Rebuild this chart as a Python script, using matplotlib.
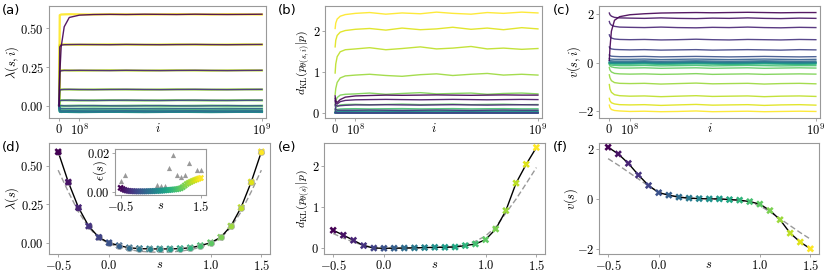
import numpy as np
import matplotlib
matplotlib.use('Agg')
import matplotlib.pyplot as plt

plt.rcParams['mathtext.fontset'] = 'cm'
plt.rcParams['font.family'] = ['DejaVu Sans']

# ---------------- data ----------------
s_vals = [-0.5, -0.4, -0.3, -0.2, -0.1, 0.0, 0.1, 0.2, 0.3, 0.4, 0.5,
          0.6, 0.7, 0.8, 0.9, 1.0, 1.1, 1.2, 1.3, 1.4, 1.5]

# training iterations (units of 1e9)
iters = [0, 0.003, 0.01, 0.025, 0.05, 0.1, 0.17, 0.25, 0.33, 0.42, 0.5,
         0.58, 0.67, 0.75, 0.83, 0.92, 1.0]

lam_traces = [
    [0.00, 0.20, 0.38, 0.51, 0.57, 0.585, 0.589, 0.590, 0.589, 0.591, 0.590, 0.589, 0.591, 0.590, 0.589, 0.590, 0.591],
    [0.00, 0.380, 0.392, 0.394, 0.395, 0.396, 0.395, 0.394, 0.396, 0.395, 0.394, 0.395, 0.396, 0.395, 0.394, 0.395, 0.396],
    [0.00, 0.220, 0.226, 0.228, 0.228, 0.229, 0.228, 0.227, 0.229, 0.228, 0.227, 0.228, 0.229, 0.228, 0.227, 0.228, 0.229],
    [0.00, 0.100, 0.104, 0.105, 0.106, 0.105, 0.104, 0.105, 0.106, 0.105, 0.104, 0.105, 0.106, 0.105, 0.104, 0.105, 0.106],
    [0.00, 0.033, 0.035, 0.035, 0.036, 0.035, 0.034, 0.035, 0.036, 0.035, 0.034, 0.035, 0.036, 0.035, 0.034, 0.035, 0.036],
    [0.00, 0.000, 0.001, 0.000, -0.001, 0.000, 0.001, 0.000, -0.001, 0.000, 0.001, 0.000, -0.001, 0.000, 0.001, 0.000, 0.000],
    [0.00, -0.017, -0.019, -0.019, -0.018, -0.019, -0.020, -0.019, -0.018, -0.019, -0.020, -0.019, -0.018, -0.019, -0.020, -0.019, -0.019],
    [0.00, -0.031, -0.033, -0.033, -0.032, -0.033, -0.034, -0.033, -0.032, -0.033, -0.034, -0.033, -0.032, -0.033, -0.034, -0.033, -0.033],
    [0.00, -0.036, -0.038, -0.038, -0.037, -0.038, -0.039, -0.038, -0.037, -0.038, -0.039, -0.038, -0.037, -0.038, -0.039, -0.038, -0.038],
    [0.00, -0.038, -0.040, -0.040, -0.039, -0.040, -0.041, -0.040, -0.039, -0.040, -0.041, -0.040, -0.039, -0.040, -0.041, -0.040, -0.040],
    [0.00, -0.039, -0.040, -0.041, -0.040, -0.039, -0.040, -0.041, -0.040, -0.039, -0.040, -0.041, -0.040, -0.039, -0.040, -0.041, -0.040],
    [0.00, -0.038, -0.040, -0.039, -0.040, -0.041, -0.040, -0.039, -0.040, -0.041, -0.040, -0.039, -0.040, -0.041, -0.040, -0.039, -0.040],
    [0.00, -0.036, -0.037, -0.038, -0.039, -0.038, -0.037, -0.038, -0.039, -0.038, -0.037, -0.038, -0.039, -0.038, -0.037, -0.038, -0.038],
    [0.00, -0.031, -0.032, -0.033, -0.034, -0.033, -0.032, -0.033, -0.034, -0.033, -0.032, -0.033, -0.034, -0.033, -0.032, -0.033, -0.033],
    [0.00, -0.017, -0.018, -0.019, -0.020, -0.019, -0.018, -0.019, -0.020, -0.019, -0.018, -0.019, -0.020, -0.019, -0.018, -0.019, -0.019],
    [0.00, 0.001, 0.000, -0.001, 0.000, 0.001, 0.000, -0.001, 0.000, 0.001, 0.000, -0.001, 0.000, 0.001, 0.000, -0.001, 0.000],
    [0.00, 0.034, 0.035, 0.036, 0.035, 0.034, 0.035, 0.036, 0.035, 0.034, 0.035, 0.036, 0.035, 0.034, 0.035, 0.036, 0.035],
    [0.00, 0.103, 0.105, 0.106, 0.105, 0.104, 0.105, 0.106, 0.105, 0.104, 0.105, 0.106, 0.105, 0.104, 0.105, 0.106, 0.105],
    [0.00, 0.225, 0.228, 0.229, 0.228, 0.227, 0.228, 0.229, 0.228, 0.227, 0.228, 0.229, 0.228, 0.227, 0.228, 0.229, 0.228],
    [0.00, 0.392, 0.395, 0.396, 0.395, 0.394, 0.395, 0.396, 0.395, 0.394, 0.395, 0.396, 0.395, 0.394, 0.395, 0.396, 0.395],
    [0.00, 0.585, 0.589, 0.590, 0.591, 0.590, 0.589, 0.591, 0.590, 0.589, 0.590, 0.591, 0.590, 0.589, 0.591, 0.590, 0.589],
]

dkl_traces = [
    [0.42, 0.30, 0.26, 0.33, 0.39, 0.42, 0.43, 0.44, 0.435, 0.44, 0.445, 0.44, 0.435, 0.44, 0.445, 0.44, 0.44],
    [0.36, 0.25, 0.22, 0.28, 0.31, 0.325, 0.33, 0.335, 0.33, 0.325, 0.33, 0.335, 0.33, 0.325, 0.33, 0.335, 0.33],
    [0.30, 0.20, 0.17, 0.18, 0.19, 0.20, 0.20, 0.205, 0.20, 0.195, 0.20, 0.205, 0.20, 0.195, 0.20, 0.205, 0.20],
    [0.20, 0.10, 0.07, 0.07, 0.07, 0.07, 0.075, 0.07, 0.065, 0.07, 0.075, 0.07, 0.065, 0.07, 0.075, 0.07, 0.07],
    [0.10, 0.03, 0.01, 0.01, 0.012, 0.01, 0.008, 0.01, 0.012, 0.01, 0.008, 0.01, 0.012, 0.01, 0.008, 0.01, 0.01],
    [0.02, 0.002, 0.000, 0.001, 0.000, 0.001, 0.000, 0.001, 0.000, 0.001, 0.000, 0.001, 0.000, 0.001, 0.000, 0.001, 0.000],
    [0.01, 0.003, 0.002, 0.002, 0.003, 0.002, 0.001, 0.002, 0.003, 0.002, 0.001, 0.002, 0.003, 0.002, 0.001, 0.002, 0.002],
    [0.01, 0.005, 0.006, 0.006, 0.007, 0.006, 0.005, 0.006, 0.007, 0.006, 0.005, 0.006, 0.007, 0.006, 0.005, 0.006, 0.006],
    [0.01, 0.008, 0.010, 0.010, 0.011, 0.010, 0.009, 0.010, 0.011, 0.010, 0.009, 0.010, 0.011, 0.010, 0.009, 0.010, 0.010],
    [0.01, 0.012, 0.015, 0.016, 0.017, 0.016, 0.015, 0.016, 0.017, 0.016, 0.015, 0.016, 0.017, 0.016, 0.015, 0.016, 0.016],
    [0.01, 0.016, 0.020, 0.022, 0.023, 0.022, 0.021, 0.022, 0.023, 0.022, 0.021, 0.022, 0.023, 0.022, 0.021, 0.022, 0.022],
    [0.01, 0.018, 0.023, 0.025, 0.026, 0.025, 0.024, 0.025, 0.026, 0.025, 0.024, 0.025, 0.026, 0.025, 0.024, 0.025, 0.025],
    [0.01, 0.020, 0.027, 0.030, 0.031, 0.030, 0.029, 0.030, 0.032, 0.030, 0.029, 0.031, 0.030, 0.029, 0.031, 0.030, 0.030],
    [0.02, 0.040, 0.055, 0.060, 0.065, 0.066, 0.063, 0.066, 0.068, 0.064, 0.066, 0.068, 0.064, 0.066, 0.067, 0.064, 0.065],
    [0.04, 0.070, 0.090, 0.100, 0.105, 0.108, 0.102, 0.107, 0.110, 0.103, 0.106, 0.110, 0.103, 0.107, 0.109, 0.104, 0.105],
    [0.08, 0.13, 0.17, 0.20, 0.21, 0.215, 0.205, 0.212, 0.22, 0.208, 0.214, 0.22, 0.207, 0.213, 0.218, 0.206, 0.21],
    [0.20, 0.30, 0.38, 0.44, 0.46, 0.47, 0.49, 0.46, 0.48, 0.50, 0.47, 0.48, 0.49, 0.46, 0.48, 0.49, 0.47],
    [0.45, 0.60, 0.75, 0.86, 0.91, 0.93, 0.95, 0.92, 0.90, 0.94, 0.96, 0.92, 0.95, 0.97, 0.93, 0.95, 0.93],
    [0.98, 1.20, 1.38, 1.50, 1.55, 1.57, 1.60, 1.55, 1.58, 1.62, 1.57, 1.59, 1.63, 1.57, 1.59, 1.56, 1.58],
    [1.62, 1.78, 1.90, 1.98, 2.02, 2.05, 2.07, 2.03, 2.08, 2.04, 2.06, 2.10, 2.05, 2.08, 2.04, 2.09, 2.06],
    [2.07, 2.20, 2.30, 2.37, 2.41, 2.44, 2.46, 2.42, 2.45, 2.43, 2.47, 2.44, 2.42, 2.46, 2.44, 2.47, 2.45],
]

v_traces = [
    [0.10, 0.60, 1.30, 1.75, 1.90, 1.98, 2.02, 2.05, 2.06, 2.07, 2.06, 2.07, 2.08, 2.07, 2.06, 2.07, 2.07],
    [2.05, 1.98, 1.92, 1.87, 1.85, 1.84, 1.83, 1.85, 1.83, 1.82, 1.84, 1.83, 1.85, 1.83, 1.82, 1.84, 1.83],
    [1.70, 1.62, 1.55, 1.50, 1.47, 1.46, 1.45, 1.47, 1.45, 1.44, 1.46, 1.45, 1.47, 1.45, 1.44, 1.46, 1.45],
    [1.15, 1.08, 1.02, 0.98, 0.96, 0.95, 0.96, 0.94, 0.95, 0.97, 0.95, 0.94, 0.96, 0.95, 0.94, 0.96, 0.95],
    [0.65, 0.60, 0.57, 0.55, 0.54, 0.53, 0.54, 0.52, 0.53, 0.54, 0.52, 0.53, 0.54, 0.53, 0.52, 0.54, 0.53],
    [0.32, 0.29, 0.27, 0.26, 0.25, 0.25, 0.26, 0.24, 0.25, 0.26, 0.25, 0.24, 0.25, 0.26, 0.25, 0.24, 0.25],
    [0.18, 0.16, 0.15, 0.14, 0.14, 0.14, 0.15, 0.13, 0.14, 0.15, 0.14, 0.13, 0.14, 0.15, 0.14, 0.13, 0.14],
    [0.10, 0.09, 0.08, 0.07, 0.07, 0.07, 0.08, 0.06, 0.07, 0.08, 0.07, 0.06, 0.07, 0.08, 0.07, 0.06, 0.07],
    [0.05, 0.04, 0.035, 0.03, 0.03, 0.03, 0.04, 0.02, 0.03, 0.04, 0.03, 0.02, 0.03, 0.04, 0.03, 0.02, 0.03],
    [0.02, 0.015, 0.01, 0.01, 0.01, 0.01, 0.02, 0.00, 0.01, 0.02, 0.01, 0.00, 0.01, 0.02, 0.01, 0.00, 0.01],
    [0.00, 0.00, 0.00, 0.00, 0.00, 0.00, 0.01, -0.01, 0.00, 0.01, 0.00, -0.01, 0.00, 0.01, 0.00, -0.01, 0.00],
    [-0.01, -0.01, -0.01, -0.01, -0.01, -0.01, 0.00, -0.02, -0.01, 0.00, -0.01, -0.02, -0.01, 0.00, -0.01, -0.02, -0.01],
    [-0.01, -0.02, -0.025, -0.03, -0.03, -0.03, -0.02, -0.04, -0.03, -0.02, -0.03, -0.04, -0.03, -0.02, -0.03, -0.04, -0.03],
    [-0.03, -0.04, -0.05, -0.06, -0.06, -0.06, -0.05, -0.07, -0.06, -0.05, -0.06, -0.07, -0.06, -0.05, -0.06, -0.07, -0.06],
    [-0.05, -0.08, -0.10, -0.11, -0.12, -0.12, -0.11, -0.13, -0.12, -0.11, -0.13, -0.12, -0.11, -0.12, -0.13, -0.12, -0.12],
    [-0.08, -0.13, -0.17, -0.20, -0.22, -0.22, -0.21, -0.23, -0.22, -0.21, -0.23, -0.22, -0.21, -0.23, -0.22, -0.21, -0.22],
    [-0.20, -0.30, -0.38, -0.44, -0.46, -0.47, -0.46, -0.48, -0.47, -0.45, -0.48, -0.47, -0.46, -0.48, -0.47, -0.46, -0.47],
    [-0.50, -0.62, -0.74, -0.82, -0.85, -0.86, -0.85, -0.88, -0.86, -0.84, -0.87, -0.86, -0.85, -0.88, -0.86, -0.85, -0.87],
    [-0.90, -1.08, -1.22, -1.32, -1.36, -1.38, -1.37, -1.40, -1.38, -1.36, -1.39, -1.38, -1.37, -1.40, -1.38, -1.37, -1.39],
    [-1.47, -1.57, -1.65, -1.70, -1.73, -1.74, -1.73, -1.76, -1.74, -1.72, -1.75, -1.74, -1.73, -1.76, -1.74, -1.73, -1.75],
    [-1.75, -1.85, -1.93, -1.97, -1.99, -2.01, -2.00, -2.02, -2.01, -1.99, -2.02, -2.01, -2.00, -2.02, -2.01, -2.00, -2.01],
]

# converged values vs s
lam_s = [0.589, 0.393, 0.228, 0.108, 0.035, 0.0, -0.019, -0.033, -0.038, -0.040, -0.040,
         -0.040, -0.038, -0.033, -0.019, 0.0, 0.035, 0.108, 0.228, 0.393, 0.589]
lam_approx = [0.47, 0.33, 0.20, 0.10, 0.03, -0.005, -0.03, -0.045, -0.055, -0.06, -0.062,
              -0.06, -0.055, -0.045, -0.03, -0.005, 0.03, 0.10, 0.20, 0.33, 0.47]
dkl_s = [0.44, 0.32, 0.195, 0.065, 0.005, 0.0, 0.002, 0.006, 0.010, 0.016, 0.024,
         0.024, 0.030, 0.065, 0.105, 0.21, 0.47, 0.92, 1.59, 2.05, 2.46]
dkl_approx = [0.36, 0.25, 0.15, 0.07, 0.02, 0.0, 0.0, 0.0, 0.01, 0.01, 0.02,
              0.03, 0.05, 0.09, 0.17, 0.30, 0.52, 0.86, 1.20, 1.58, 1.97]
v_s = [2.08, 1.81, 1.43, 0.96, 0.54, 0.25, 0.15, 0.07, 0.03, 0.01, 0.0,
       0.0, -0.03, -0.05, -0.11, -0.21, -0.47, -0.84, -1.38, -1.74, -2.01]
v_approx = [1.62, 1.36, 1.08, 0.80, 0.52, 0.28, 0.14, 0.07, 0.03, 0.01, 0.0,
            -0.01, -0.03, -0.07, -0.14, -0.28, -0.52, -0.80, -1.08, -1.36, -1.62]

# inset: error eps(s)
s_fine = [-0.5, -0.45, -0.4, -0.35, -0.3, -0.25, -0.2, -0.15, -0.1, -0.05, 0.0,
          0.05, 0.1, 0.15, 0.2, 0.25, 0.3, 0.35, 0.4, 0.45, 0.5, 0.55, 0.6, 0.65,
          0.7, 0.75, 0.8, 0.85, 0.9, 0.95, 1.0, 1.05, 1.1, 1.15, 1.2, 1.25, 1.3,
          1.35, 1.4, 1.45, 1.5]
eps_fine = [0.0020, 0.0014, 0.0009, 0.0006, 0.0004, 0.0003, 0.0003, 0.0002, 0.0002, 0.0002, 0.0002,
            0.0002, 0.0002, 0.0002, 0.0003, 0.0003, 0.0003, 0.0004, 0.0004, 0.0005, 0.0005, 0.0006,
            0.0007, 0.0008, 0.0009, 0.0010, 0.0011, 0.0012, 0.0013, 0.0015, 0.0018, 0.0024, 0.0032,
            0.0040, 0.0046, 0.0051, 0.0056, 0.0060, 0.0064, 0.0068, 0.0071]
s_tri = [-0.5, -0.4, 0.4, 0.5, 0.6, 0.7, 0.8, 0.9, 1.0, 1.1, 1.2, 1.4, 1.5]
eps_tri = [0.0058, 0.0089, 0.0035, 0.0027, 0.0027, 0.0124, 0.0190, 0.0085, 0.0078, 0.0089,
           0.0151, 0.0112, 0.0112]

# ---------------- plotting ----------------
W, H = 830, 277
fig = plt.figure(figsize=(W / 100, H / 100), dpi=100)

def add_ax(l, r, t, b):
    return fig.add_axes([l / W, 1 - b / H, (r - l) / W, (b - t) / H])

SP = '#999999'
FS = 9

def style(ax):
    for sp in ax.spines.values():
        sp.set_color(SP)
        sp.set_linewidth(0.8)
    ax.tick_params(colors='black', labelsize=FS, length=2, width=0.6, color=SP, pad=1.5)

def place_labels(ax, ylx, xly, yly=0.5):
    ax.xaxis.set_label_coords(0.5, xly)
    ax.xaxis.label.set_va('top')
    ax.yaxis.set_label_coords(ylx, yly)
    ax.yaxis.label.set_va('center')

cmap = plt.get_cmap('viridis')
cols = [cmap((s + 0.5) / 2.0) for s in s_vals]
icols = [cmap((s + 0.5) / 2.0) for s in s_fine]
xi = np.array(iters) * 1e9

axa = add_ax(49, 266, 6, 118)
axb = add_ax(325, 542, 6, 118)
axc = add_ax(599, 820, 6, 118)
axd = add_ax(49, 270, 143, 254)
axe = add_ax(324, 545, 143, 254)
axf = add_ax(599, 819, 143, 254)

for ax, tr in [(axa, lam_traces), (axb, dkl_traces), (axc, v_traces)]:
    order = list(range(len(tr)))[::-1]
    for k in order:
        lw = 1.0
        if ax is axa and s_vals[k] > 0.5:
            lw = 1.6
        ax.plot(xi, tr[k], color=cols[k], lw=lw, alpha=0.9)
    ax.set_xlim(-0.05e9, 1.02e9)
    ax.set_xticks([0, 1e8, 1e9])
    ax.set_xticklabels(['$0$', '$10^8$', '$10^9$'])
    ax.set_xlabel('$i$', fontsize=FS)
    style(ax)

axa.set_ylim(-0.079, 0.644)
axa.set_yticks([0.0, 0.25, 0.5])
axa.set_yticklabels(['$0.00$', '$0.25$', '$0.50$'])
axa.set_ylabel(r'$\lambda(s,i)$', fontsize=FS)
place_labels(axa, -0.170, -0.035)

axb.set_ylim(-0.12, 2.62)
axb.set_yticks([0, 1, 2])
axb.set_yticklabels(['$0$', '$1$', '$2$'])
axb.set_ylabel(r'$d_{\rm KL}(p_{\theta(s,i)}|p)$', fontsize=8.5)
place_labels(axb, -0.100, -0.035)

axc.set_ylim(-2.28, 2.34)
axc.set_yticks([-2, 0, 2])
axc.set_yticklabels(['$-2$', '$0$', '$2$'])
axc.set_ylabel(r'$v(s,i)$', fontsize=FS)
place_labels(axc, -0.112, -0.035)

sv = np.array(s_vals)
for ax, y, ya in [(axd, lam_s, lam_approx), (axe, dkl_s, dkl_approx), (axf, v_s, v_approx)]:
    ax.plot(sv, ya, ls='--', color='#999999', lw=1.0, dashes=(4, 2), zorder=2)
    ax.plot(sv, y, color='black', lw=1.0, zorder=3)
    if ax is axd:
        for k in range(len(sv)):
            zc = 5 if sv[k] > 0.05 else 3.5
            ax.plot(sv[k], y[k], 'o', ms=4.3, mfc=cols[k], mec='#aaaaaa', mew=0.5, zorder=zc)
    ax.scatter(sv, y, marker='X', s=28, c=cols, linewidths=0, zorder=4)
    ax.set_xlim(-0.59, 1.585)
    ax.set_xticks([-0.5, 0.0, 1.0, 1.5])
    ax.set_xticklabels(['$-0.5$', '$0.0$', '$1.0$', '$1.5$'])
    ax.set_xlabel('$s$', fontsize=FS)
    style(ax)

axd.set_ylim(-0.073, 0.646)
axd.set_yticks([0.0, 0.25, 0.5])
axd.set_yticklabels(['$0.00$', '$0.25$', '$0.50$'])
axd.set_ylabel(r'$\lambda(s)$', fontsize=FS)
place_labels(axd, -0.167, -0.035)

axe.set_ylim(-0.14, 2.57)
axe.set_yticks([0, 1, 2])
axe.set_yticklabels(['$0$', '$1$', '$2$'])
axe.set_ylabel(r'$d_{\rm KL}(p_{\theta(s)}|p)$', fontsize=8.5)
place_labels(axe, -0.097, -0.035)

axf.set_ylim(-2.22, 2.25)
axf.set_yticks([-2, 0, 2])
axf.set_yticklabels(['$-2$', '$0$', '$2$'])
axf.set_ylabel(r'$v(s)$', fontsize=FS)
place_labels(axf, -0.126, -0.035)

# inset
axi = add_ax(115, 206, 149, 195)
axi.scatter(s_tri, eps_tri, marker='^', s=14, color='#999999', linewidths=0, zorder=2)
axi.scatter(s_fine, eps_fine, marker='X', s=22, c=icols, linewidths=0, zorder=3)
axi.set_xlim(-0.64, 1.63)
axi.set_ylim(-0.0017, 0.0221)
axi.set_xticks([-0.5, 1.5])
axi.set_xticklabels(['$-0.5$', '$1.5$'])
axi.set_yticks([0.0, 0.02])
axi.set_yticklabels(['$0.00$', '$0.02$'])
axi.set_xlabel('$s$', fontsize=FS)
axi.set_ylabel(r'$\epsilon(s)$', fontsize=FS)
style(axi)
place_labels(axi, -0.165, -0.085, 0.54)

for lab, x, y in [('(a)', 2, 4), ('(b)', 278, 4), ('(c)', 553, 4),
                  ('(d)', 2, 141), ('(e)', 278, 141), ('(f)', 553, 141)]:
    fig.text(x / W, 1 - y / H, lab, fontsize=9.5, va='top', ha='left')

fig.savefig('out.png', dpi=100)
